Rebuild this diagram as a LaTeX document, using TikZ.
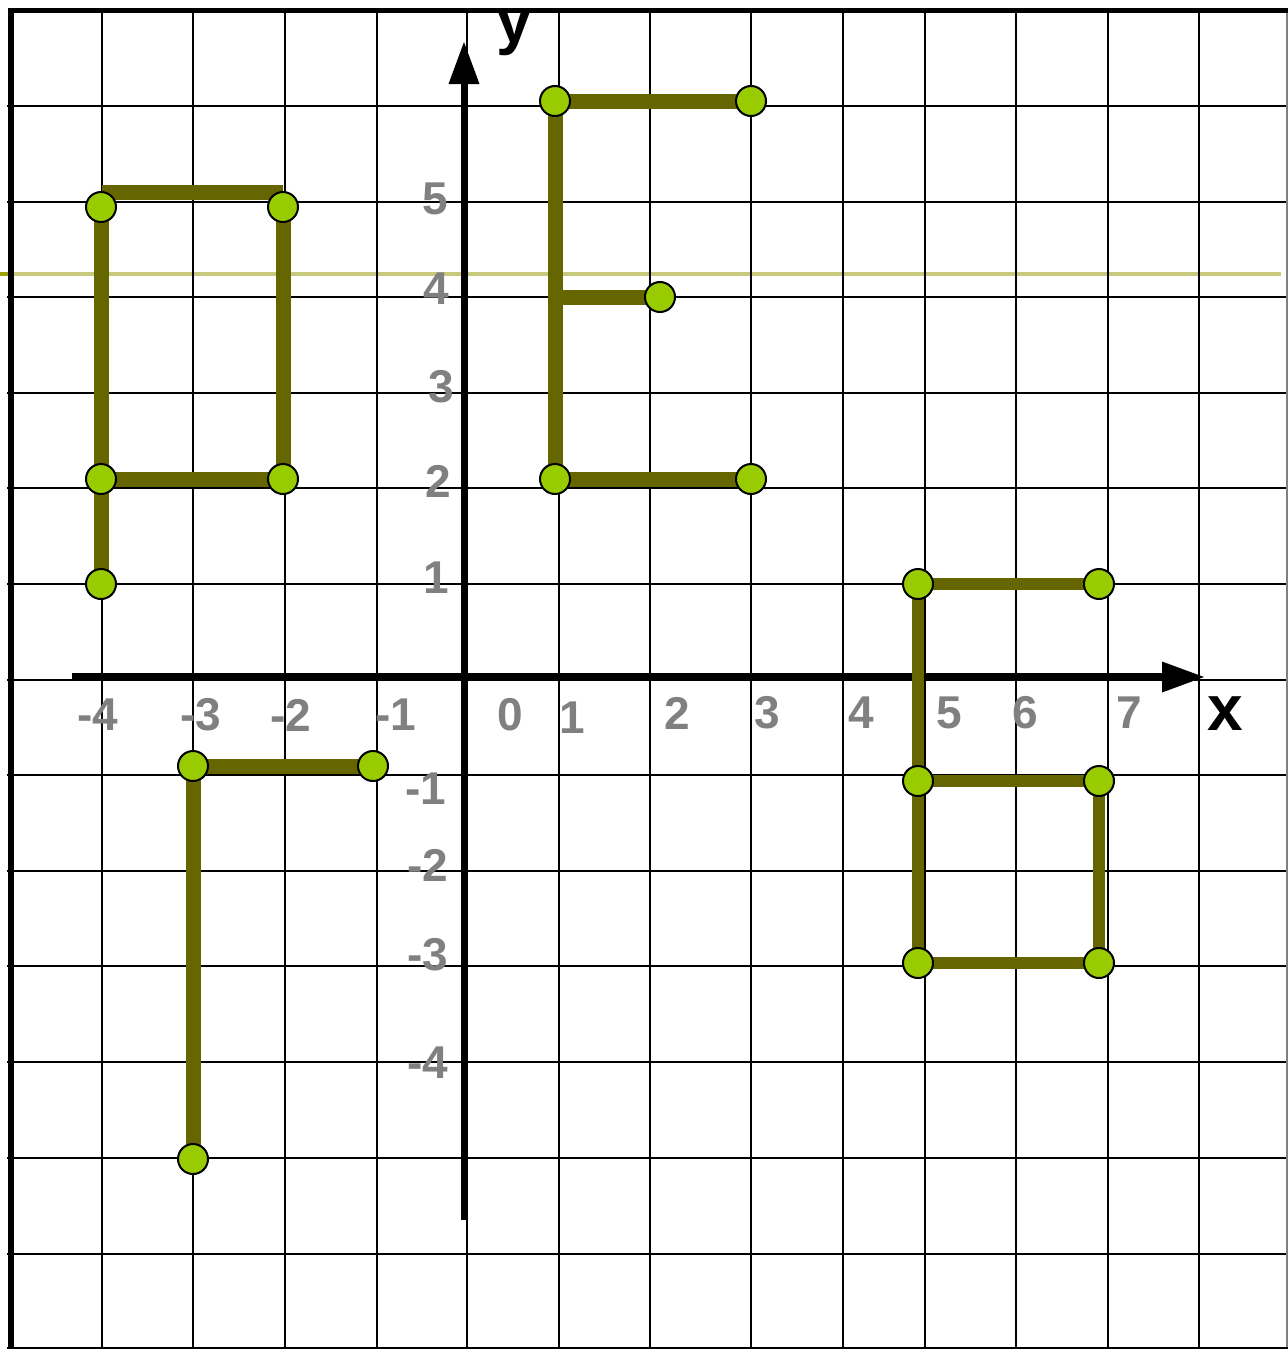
\documentclass[tikz,border=0pt]{standalone}
\usepackage{fontspec}
\setmainfont{Liberation Sans}
\definecolor{olivebar}{HTML}{666600}
\definecolor{dotfill}{HTML}{99CC00}
\definecolor{lbl}{HTML}{808080}
\definecolor{guide}{HTML}{C9C97D}
\definecolor{guidedark}{HTML}{A0A000}
\begin{document}
\begin{tikzpicture}[x=0.5pt,y=-0.5pt,
  gridline/.style={line width=1.4pt, black},
  bar/.style={line width=7.5pt, olivebar},
  thinbar/.style={line width=6.2pt, olivebar},
  dot/.style={circle, fill=dotfill, draw=black, line width=1pt, minimum size=15pt, inner sep=0pt},
  lab/.style={text=lbl, font=\bfseries\fontsize{23}{23}\selectfont, inner sep=0pt},
  axlab/.style={text=black, font=\bfseries\fontsize{32}{32}\selectfont, inner sep=0pt}]
\path[use as bounding box, fill=white] (0,0) rectangle (1288,1349);
% guide line
\draw[guide, line width=2pt] (8,274) -- (1281,274);
\draw[guidedark, line width=2pt] (0,274) -- (8,274);
% grid
\foreach \x in {102,193,285,377,467,559,650,751,843,925,1016,1108,1199}
  \draw[gridline] (\x,10) -- (\x,1349);
\foreach \y in {106,202,297,393,488,584,680,775,871,966,1062,1158,1254}
  \draw[gridline] (7,\y) -- (1288,\y);
\draw[gray, line width=0.8pt] (1287,10) -- (1287,1349);
\draw[black, line width=1.2pt] (7,1348) -- (1288,1348);
% border
\draw[line width=2.7pt] (11,8) -- (11,1349);
\draw[line width=2.7pt] (8,10.5) -- (1288,10.5);
% axes
\coordinate (xs) at (72,677);
\coordinate (xe) at (1165,677);
\coordinate (ys) at (464,1220);
\coordinate (ye) at (464,80);
\draw[line width=4pt] (xs) -- (xe);
\fill (1204,677) -- (1162,661.5) -- (1162,692.5) -- cycle;
\draw[line width=3.4pt] (ys) -- (ye);
\fill (464,42) -- (448.5,84) -- (479.5,84) -- cycle;
% axis labels
\node[axlab] (lx) at (1225,714) {x};
\node[axlab] (ly) at (514,32) {y};
\node[lab] (xm4) at (98,715) {-4};
\node[lab] (xm3) at (201,715) {-3};
\node[lab] (xm2) at (291,715) {-2};
\node[lab] (xm1) at (396,715) {-1};
\node[lab] (x0) at (510,715) {0};
\node[lab] (x1) at (572,718) {1};
\node[lab] (x2) at (677,713) {2};
\node[lab] (x3) at (767,713) {3};
\node[lab] (x4) at (861,713) {4};
\node[lab] (x5) at (949,713) {5};
\node[lab] (x6) at (1025,713) {6};
\node[lab] (x7) at (1129,713) {7};
\node[lab] (y5) at (435,199) {5};
\node[lab] (y4) at (436,289) {4};
\node[lab] (y3) at (441,387) {3};
\node[lab] (y2) at (438,481) {2};
\node[lab] (y1) at (436,578) {1};
\node[lab] (ym1) at (426,789) {-1};
\node[lab] (ym2) at (428,865) {-2};
\node[lab] (ym3) at (428,955) {-3};
\node[lab] (ym4) at (428,1063) {-4};
% shape A
\coordinate (a1) at (101,207);
\coordinate (a2) at (283,207);
\coordinate (a3) at (101,479);
\coordinate (a4) at (283,479);
\coordinate (a5) at (101,584);
\coordinate (at1) at (101.5,192);
\coordinate (at2) at (283,192);
\draw[bar] (at1) -- (at2);
\draw[bar] (a1) -- (a5);
\draw[bar] (a2) -- (a4);
\draw[bar] (a3) -- (a4);
% shape E
\coordinate (e1) at (555,101);
\coordinate (e2) at (751,101);
\coordinate (e3) at (660,297);
\coordinate (e4) at (555,479);
\coordinate (e5) at (751,479);
\coordinate (em) at (555,297);
\draw[bar] (e1) -- (e4);
\draw[bar] (e1) -- (e2);
\draw[bar] (em) -- (e3);
\draw[bar] (e4) -- (e5);
% shape G
\coordinate (g1) at (193,766);
\coordinate (g2) at (373,766);
\coordinate (g3) at (193,1159);
\draw[bar] (g1) -- (g2);
\draw[bar] (g1) -- (g3);
% shape B
\coordinate (b1) at (918,584);
\coordinate (b2) at (1099,584);
\coordinate (b3) at (918,781);
\coordinate (b4) at (1099,781);
\coordinate (b5) at (918,963);
\coordinate (b6) at (1099,963);
\draw[thinbar] (b1) -- (b5);
\draw[thinbar] (b1) -- (b2);
\draw[thinbar] (b3) -- (b4);
\draw[thinbar] (b4) -- (b6);
\draw[thinbar] (b5) -- (b6);
% dots
\foreach \p in {a1,a2,a3,a4,a5,e1,e2,e3,e4,e5,g1,g2,g3,b1,b2,b3,b4,b5,b6}
  \node[dot] (d\p) at (\p) {};
\end{tikzpicture}
\end{document}
